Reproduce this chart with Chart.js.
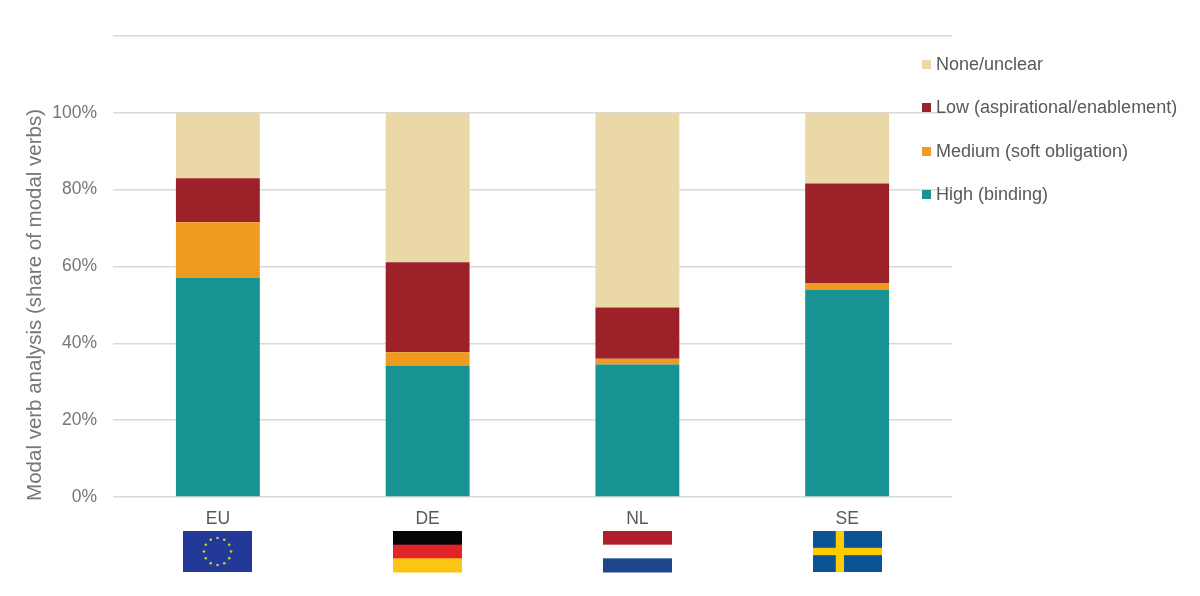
<!DOCTYPE html>
<html>
<head>
<meta charset="utf-8">
<script src="https://cdn.jsdelivr.net/npm/chart.js@4"></script>
<style>
  body { margin: 0; background: #fff; font-family: Arial, "Liberation Sans", sans-serif; }
  #wrap { position: relative; width: 1200px; height: 596px; }
  #legend { position: absolute; left: 922px; top: 53px; }
  .item { height: 43.3px; line-height: 22px; font-size: 18px; color: #595959; white-space: nowrap; }
  .item span.box { display: inline-block; width: 9px; height: 9px; margin-right: 5px; vertical-align: 1px; }
</style>
</head>
<body>
<div id="wrap">
  <canvas id="chart" width="1200" height="596"></canvas>
  <div id="legend"></div>
</div>
<script>
const countries = ['EU', 'DE', 'NL', 'SE'];
const yTicks = [0, 20, 40, 60, 80, 100, 120];
const yTitle = 'Modal verb analysis (share of modal verbs)';

// share of modal verbs, in percent
const high = [57.1, 34.1, 34.5, 54.0];
const medium = [14.4, 3.6, 1.5, 1.7];
const low = [11.5, 23.4, 13.3, 25.9];
const noneUnclear = [17.0, 38.9, 50.7, 18.4];

const colors = {
    high: '#189394',
    medium: '#EF9B20',
    low: '#9D2128',
    none: '#EAD8A7'
};

function drawFlag(ctx, code, x, y, w, h) {
    ctx.save();
    if (code === 'EU') {
        ctx.fillStyle = '#22399A';
        ctx.fillRect(x, y, w, h);
        ctx.fillStyle = '#C9D23A';
        const cx = x + w / 2, cy = y + h / 2, r = h * 0.33;
        for (let i = 0; i < 12; i++) {
            const a = i * Math.PI / 6;
            ctx.beginPath();
            ctx.arc(cx + r * Math.cos(a), cy + r * Math.sin(a), 1.3, 0, Math.PI * 2);
            ctx.fill();
        }
    } else if (code === 'DE') {
        ['#050505', '#E1242A', '#FBC514'].forEach((c, i) => {
            ctx.fillStyle = c;
            ctx.fillRect(x, y + i * h / 3, w, h / 3 + 0.5);
        });
    } else if (code === 'NL') {
        ['#AE1F2B', '#FFFDFD', '#1F468B'].forEach((c, i) => {
            ctx.fillStyle = c;
            ctx.fillRect(x, y + i * h / 3, w, h / 3 + 0.5);
        });
    } else if (code === 'SE') {
        ctx.fillStyle = '#0B5394';
        ctx.fillRect(x, y, w, h);
        ctx.fillStyle = '#FECB00';
        ctx.fillRect(x + w * 0.33, y, w * 0.12, h);
        ctx.fillRect(x, y + h * 0.41, w, h * 0.18);
    }
    ctx.restore();
}

const extrasPlugin = {
    id: 'extras',
    afterDraw(chart) {
        const ctx = chart.ctx;
        const xs = chart.scales.x;
        const ys = chart.scales.y;
        countries.forEach((c, i) => {
            const cx = xs.getPixelForValue(i);
            drawFlag(ctx, c, Math.round(cx - 34.5), 531, 69, 41);
        });
        // axis title centred on the 0-100% range
        ctx.save();
        ctx.translate(35, (ys.getPixelForValue(0) + ys.getPixelForValue(100)) / 2);
        ctx.rotate(-Math.PI / 2);
        ctx.fillStyle = '#767676';
        ctx.font = '20.5px Arial, "Liberation Sans"';
        ctx.textAlign = 'center';
        ctx.textBaseline = 'middle';
        ctx.fillText(yTitle, 0, 0);
        ctx.restore();
    }
};

const chart = new Chart(document.getElementById('chart'), {
    type: 'bar',
    data: {
        labels: countries,
        datasets: [
            { label: 'High (binding)', data: high, backgroundColor: colors.high },
            { label: 'Medium (soft obligation)', data: medium, backgroundColor: colors.medium },
            { label: 'Low (aspirational/enablement)', data: low, backgroundColor: colors.low },
            { label: 'None/unclear', data: noneUnclear, backgroundColor: colors.none }
        ]
    },
    options: {
        responsive: false,
        animation: false,
        devicePixelRatio: 1,
        layout: { padding: { top: 36, right: 248, left: 0, bottom: 0 } },
        datasets: { bar: { categoryPercentage: 1, barPercentage: 0.4 } },
        plugins: { legend: { display: false }, tooltip: { enabled: false } },
        scales: {
            x: {
                stacked: true,
                grid: { display: false },
                border: { display: false },
                ticks: { color: '#595959', font: { family: 'Arial, "Liberation Sans"', size: 17.5 }, padding: 4 },
                afterFit(scale) { scale.height = 99; }
            },
            y: {
                stacked: true,
                min: 0,
                max: 120,
                afterBuildTicks(scale) { scale.ticks = yTicks.map(v => ({ value: v })); },
                grid: { color: '#D9D9D9', lineWidth: 1.5, drawTicks: false },
                border: { display: false },
                ticks: {
                    color: '#767676',
                    font: { family: 'Arial, "Liberation Sans"', size: 17.5 },
                    padding: 16,
                    callback: v => v <= 100 ? v + '%' : ''
                },
                afterFit(scale) { scale.width = 113; }
            }
        }
    },
    plugins: [extrasPlugin]
});

// legend, listed top to bottom as the stack reads
const legend = document.getElementById('legend');
chart.data.datasets.slice().reverse().forEach(ds => {
    const item = document.createElement('div');
    item.className = 'item';
    item.innerHTML = `<span class="box" style="background:${ds.backgroundColor}"></span>${ds.label}`;
    legend.appendChild(item);
});
</script>
</body>
</html>
